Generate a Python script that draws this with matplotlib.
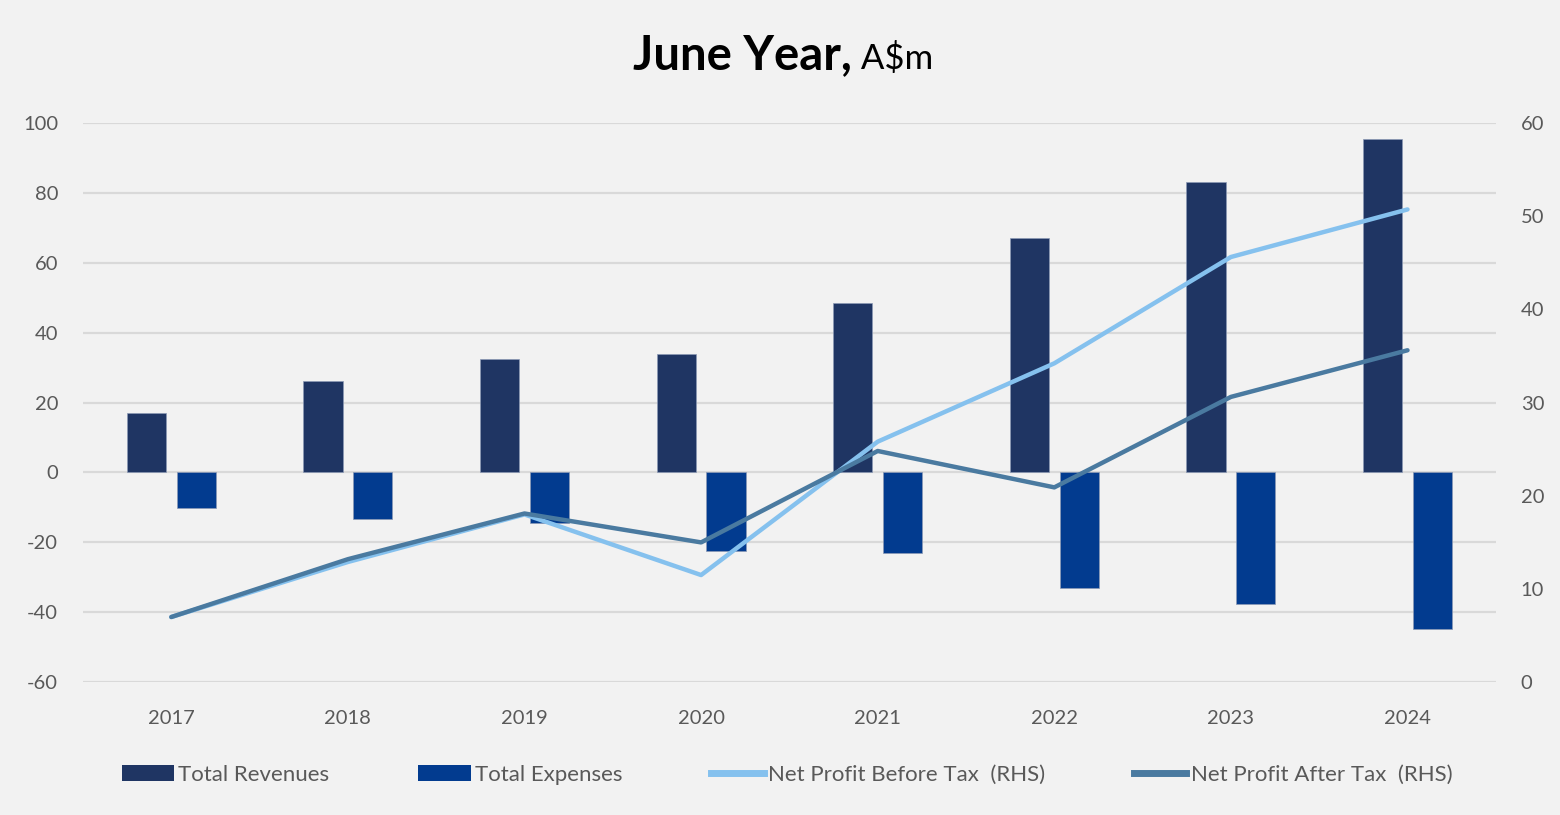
import numpy as np
import matplotlib
matplotlib.use("Agg")
import matplotlib.pyplot as plt
from matplotlib.patches import Patch
from matplotlib.lines import Line2D

plt.rcParams['font.family'] = ['Lato', 'DejaVu Sans']
plt.rcParams['axes.unicode_minus'] = False

# data (A$m)
years = ['2017', '2018', '2019', '2020', '2021', '2022', '2023', '2024']
total_revenues = [17.1, 26.1, 32.4, 33.8, 48.4, 66.9, 83.0, 95.3]
total_expenses = [-10.1, -13.4, -14.4, -22.4, -22.9, -32.9, -37.5, -44.8]
npbt = [7.0, 12.9, 18.0, 11.5, 25.8, 34.2, 45.6, 50.7]   # RHS
npat = [7.0, 13.2, 18.1, 15.0, 24.8, 20.9, 30.6, 35.6]   # RHS

c_rev = '#1f3563'
c_exp = '#023b8f'
c_npbt = '#85c1ee'
c_npat = '#4a7aa0'
bg = '#f2f2f2'
grid_c = '#d9d9d9'
txt_c = '#595959'

fig = plt.figure(figsize=(15.6, 8.15), dpi=100, facecolor=bg)
ax = fig.add_axes([83 / 1560, 1 - 682.3 / 815, (1495.8 - 83) / 1560, (682.3 - 122.7) / 815])
ax.set_facecolor(bg)

x = np.arange(len(years))
w = 0.2225
off = (w + 0.06) / 2
ax.bar(x - off, total_revenues, w, color=c_rev, edgecolor='#8c9ab5', linewidth=0.5, zorder=2)
ax.bar(x + off, total_expenses, w, color=c_exp, edgecolor='#8c9ab5', linewidth=0.5, zorder=2)

ax.set_xlim(-0.5, len(years) - 0.5)
ax.set_ylim(-60, 100)
ax.set_yticks(np.arange(-60, 101, 20))
ax.set_xticks(x)
ax.set_xticklabels(years)
ax.yaxis.grid(True, color=grid_c, linewidth=1.6, zorder=0)
ax.set_axisbelow(True)
for s in ax.spines.values():
    s.set_visible(False)
ax.tick_params(axis='y', length=0, pad=18, labelsize=14.5, labelcolor=txt_c)
ax.tick_params(axis='x', length=0, pad=20, labelsize=14.5, labelcolor=txt_c)

ax2 = ax.twinx()
ax2.plot(x, npbt, color=c_npbt, linewidth=3.2, solid_capstyle='round', solid_joinstyle='round', zorder=3)
ax2.plot(x, npat, color=c_npat, linewidth=3.2, solid_capstyle='round', solid_joinstyle='round', zorder=4)
ax2.set_ylim(0, 60)
ax2.set_yticks(np.arange(0, 61, 10))
for s in ax2.spines.values():
    s.set_visible(False)
ax2.tick_params(axis='y', length=0, pad=18, labelsize=14.5, labelcolor=txt_c)

# title: bold part + regular unit
t1 = fig.text(0.5, 1 - 69 / 815, 'June Year,', fontsize=34, fontweight='bold',
              color='black', ha='right', va='baseline')
t2 = fig.text(0.5, 1 - 69 / 815, ' A$m', fontsize=25, color='black', ha='left', va='baseline')
fig.canvas.draw()
r = fig.canvas.get_renderer()
w1 = t1.get_window_extent(r).width
w2 = t2.get_window_extent(r).width
cx = 783
t1.set_x((cx - (w1 + w2) / 2 + w1) / 1560)
t2.set_x((cx - (w1 + w2) / 2 + w1) / 1560)

handles = [
    Patch(facecolor=c_rev, edgecolor='none'),
    Patch(facecolor=c_exp, edgecolor='none'),
    Line2D([0], [0], color=c_npbt, linewidth=5),
    Line2D([0], [0], color=c_npat, linewidth=5),
]
labels = ['Total Revenues', 'Total Expenses', 'Net Profit Before Tax  (RHS)', 'Net Profit After Tax  (RHS)']
leg = fig.legend(handles, labels, loc='center', bbox_to_anchor=(787 / 1560, 1 - 775 / 815),
                 ncol=4, frameon=False, fontsize=16, labelcolor=txt_c,
                 handlelength=2.35, handleheight=0.7, handletextpad=0.2, columnspacing=4.0)

fig.savefig('out.png', dpi=100, facecolor=bg)
